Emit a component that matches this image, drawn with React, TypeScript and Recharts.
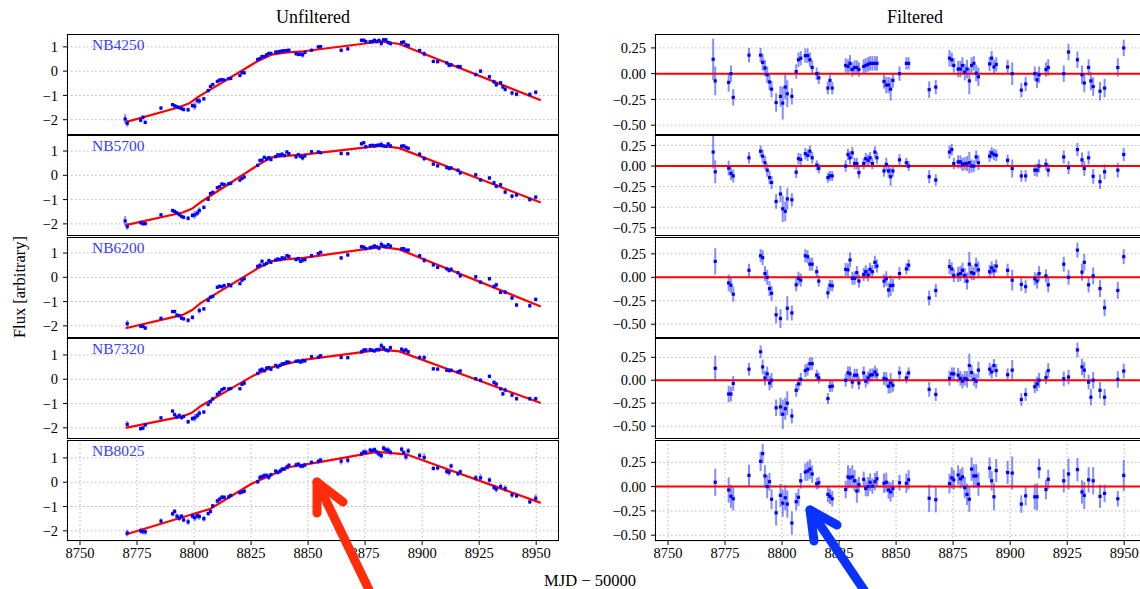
import React from "react";
import {
  ComposedChart,
  Scatter,
  Line,
  XAxis,
  YAxis,
  CartesianGrid,
  ErrorBar,
  ReferenceLine,
} from "recharts";

// observation epochs (MJD - 50000), shared by all bands
const mjd = [
  8769.8, 8770.7, 8776.6, 8777.6, 8778.6, 8785.5, 8790.6, 8791.5, 8792.5, 8793.5,
  8794.5, 8795.4, 8797.4, 8799.3, 8800.3, 8801.4, 8802.3, 8804.3, 8806.2, 8807.2,
  8808.2, 8810.2, 8811.2, 8812.2, 8813.2, 8815.2, 8816.1, 8820.1, 8821.0, 8822.0,
  8827.9, 8828.9, 8829.8, 8830.8, 8831.8, 8832.8, 8833.7, 8835.8, 8836.7, 8837.7,
  8838.6, 8839.6, 8840.7, 8841.6, 8844.7, 8845.7, 8846.7, 8847.6, 8848.6, 8851.5,
  8854.5, 8855.5, 8864.5, 8867.4, 8873.4, 8874.4, 8875.3, 8877.2, 8878.2, 8879.1,
  8880.1, 8881.1, 8882.1, 8883.1, 8884.1, 8885.1, 8886.1, 8891.0, 8891.9, 8892.9,
  8893.9, 8898.9, 8900.9, 8904.9, 8906.8, 8910.8, 8911.8, 8912.7, 8915.7, 8916.7,
  8923.5, 8925.6, 8929.5, 8931.5, 8932.5, 8934.4, 8935.4, 8936.4, 8939.4, 8941.4,
  8947.2, 8949.8,
];

// 1-sigma errors (blue bands, and the NB8025 band)
const errBlue = [
  0.2, 0.14, 0.09, 0.08, 0.08, 0.07, 0.07, 0.08, 0.08, 0.08,
  0.08, 0.08, 0.09, 0.1, 0.16, 0.12, 0.13, 0.08, 0.07, 0.07,
  0.07, 0.07, 0.07, 0.07, 0.07, 0.06, 0.06, 0.06, 0.06, 0.06,
  0.07, 0.07, 0.08, 0.07, 0.07, 0.07, 0.07, 0.07, 0.07, 0.07,
  0.07, 0.07, 0.07, 0.07, 0.07, 0.08, 0.08, 0.11, 0.07, 0.07,
  0.06, 0.06, 0.08, 0.07, 0.08, 0.07, 0.07, 0.08, 0.08, 0.08,
  0.08, 0.09, 0.13, 0.08, 0.07, 0.08, 0.09, 0.07, 0.07, 0.07,
  0.07, 0.07, 0.11, 0.07, 0.07, 0.07, 0.08, 0.08, 0.07, 0.08,
  0.08, 0.08, 0.08, 0.09, 0.09, 0.08, 0.09, 0.09, 0.09, 0.09,
  0.09, 0.08,
];
const errRed = [
  0.1, 0.14, 0.13, 0.12, 0.12, 0.11, 0.1, 0.1, 0.11, 0.12,
  0.09, 0.1, 0.13, 0.12, 0.14, 0.13, 0.14, 0.12, 0.09, 0.09,
  0.08, 0.09, 0.1, 0.1, 0.09, 0.06, 0.06, 0.08, 0.08, 0.08,
  0.09, 0.12, 0.1, 0.12, 0.11, 0.12, 0.08, 0.08, 0.08, 0.1,
  0.09, 0.08, 0.09, 0.08, 0.1, 0.1, 0.09, 0.1, 0.09, 0.08,
  0.1, 0.1, 0.14, 0.13, 0.1, 0.11, 0.1, 0.1, 0.1, 0.1,
  0.11, 0.11, 0.13, 0.12, 0.12, 0.12, 0.12, 0.11, 0.1, 0.14,
  0.12, 0.12, 0.17, 0.09, 0.1, 0.13, 0.14, 0.1, 0.1, 0.1,
  0.12, 0.16, 0.12, 0.12, 0.14, 0.13, 0.1, 0.14, 0.12, 0.09,
  0.08, 0.16,
];

// unfiltered fluxes
const flux4250 = [
  -1.97, -2.15, -2.02, -1.9, -2.11, -1.52, -1.38, -1.43, -1.47, -1.5,
  -1.54, -1.58, -1.59, -1.42, -1.44, -1.21, -1.23, -1.14, -0.8, -0.63,
  -0.55, -0.42, -0.37, -0.35, -0.37, -0.31, -0.3, -0.18, -0.06, -0.07,
  0.48, 0.52, 0.6, 0.6, 0.67, 0.73, 0.73, 0.78, 0.79, 0.81,
  0.83, 0.84, 0.85, 0.86, 0.72, 0.69, 0.7, 0.67, 0.77, 0.86,
  1.0, 1.01, 0.86, 0.92, 1.27, 1.27, 1.22, 1.21, 1.22, 1.27,
  1.22, 1.26, 1.15, 1.29, 1.29, 1.18, 1.14, 1.18, 1.2, 1.08,
  1.06, 0.85, 0.71, 0.4, 0.39, 0.34, 0.24, 0.26, 0.19, 0.18,
  -0.14, 0.0, -0.23, -0.44, -0.56, -0.48, -0.65, -0.75, -0.9, -0.95,
  -0.96, -0.87,
];
const flux5700 = [
  -1.88, -2.11, -1.95, -1.99, -1.99, -1.63, -1.45, -1.49, -1.55, -1.62,
  -1.69, -1.73, -1.77, -1.65, -1.63, -1.56, -1.45, -1.32, -0.99, -0.75,
  -0.7, -0.51, -0.47, -0.36, -0.38, -0.35, -0.33, -0.2, -0.13, -0.07,
  0.41, 0.61, 0.62, 0.74, 0.67, 0.73, 0.65, 0.77, 0.84, 0.83,
  0.87, 0.81, 0.96, 0.89, 0.76, 0.85, 0.78, 0.72, 0.8, 0.97,
  0.96, 0.93, 0.9, 0.89, 1.3, 1.34, 1.18, 1.22, 1.23, 1.21,
  1.23, 1.24, 1.26, 1.21, 1.19, 1.29, 1.21, 1.2, 1.21, 1.15,
  1.11, 0.87, 0.69, 0.46, 0.39, 0.32, 0.28, 0.3, 0.21, 0.1,
  0.02, -0.19, -0.11, -0.31, -0.45, -0.39, null, -0.69, -0.86, -0.81,
  -1.0, -0.9,
];
const flux6200 = [
  null, -1.91, -2.01, -2.02, -2.09, -1.69, -1.41, -1.41, -1.56, -1.58,
  -1.68, -1.71, -1.77, -1.65, null, null, -1.37, -1.3, -0.95, -0.82,
  -0.79, -0.41, -0.37, -0.39, -0.34, -0.3, -0.35, -0.26, -0.12, -0.06,
  0.45, 0.5, 0.66, 0.52, 0.57, 0.69, 0.62, 0.71, 0.75, 0.73,
  0.8, 0.78, 0.89, 0.86, 0.73, 0.77, 0.66, 0.71, 0.73, 0.89,
  0.98, 1.03, 0.8, 0.92, 1.26, 1.24, 1.18, 1.22, 1.24, 1.29,
  1.25, 1.2, 1.35, 1.29, 1.26, 1.34, 1.28, 1.17, 1.18, 1.11,
  1.12, 0.89, 0.7, 0.51, 0.41, 0.35, 0.28, 0.33, 0.19, 0.06,
  0.02, -0.2, -0.06, -0.38, -0.31, -0.62, null, -0.61, -0.85, -1.14,
  -1.17, -0.91,
];
const flux7320 = [
  null, -1.86, -2.03, -2.01, -1.88, -1.59, -1.31, -1.46, -1.56, -1.49,
  -1.58, -1.53, -1.75, -1.62, -1.59, -1.5, -1.4, -1.35, -1.04, -0.92,
  -0.81, -0.62, -0.54, -0.43, -0.38, -0.4, -0.38, -0.39, -0.21, -0.16,
  0.24, 0.37, 0.41, 0.35, 0.46, 0.48, 0.41, 0.57, 0.51, 0.57,
  0.63, 0.65, 0.71, 0.7, 0.74, 0.75, 0.71, 0.76, 0.76, 0.93,
  0.91, 0.97, 0.9, 0.89, 1.13, 1.2, 1.21, 1.22, 1.19, 1.17,
  1.22, 1.22, 1.38, 1.3, 1.21, 1.18, 1.3, 1.24, 1.17, 1.21,
  1.13, 0.9, 0.89, 0.43, 0.42, 0.37, 0.36, 0.37, 0.3, 0.34,
  0.02, -0.04, 0.12, -0.13, -0.2, -0.39, -0.6, -0.44, -0.65, -0.8,
  -0.8, -0.8,
];
const flux8025 = [
  null, -2.09, -2.0, -2.03, -2.04, -1.6, -1.3, -1.2, -1.4, -1.48,
  -1.4, -1.55, -1.63, -1.39, -1.46, -1.38, -1.41, -1.5, -1.29, -1.2,
  -0.97, -0.77, -0.7, -0.62, -0.62, -0.6, -0.54, -0.43, -0.4, -0.37,
  0.02, 0.19, 0.22, 0.27, 0.27, 0.21, 0.31, 0.46, 0.4, 0.46,
  0.54, 0.55, 0.63, 0.7, 0.71, 0.74, 0.67, 0.67, 0.71, 0.82,
  0.86, 0.91, 0.87, 0.91, 1.17, 1.24, 1.24, 1.32, 1.3, 1.34,
  1.24, 1.16, 1.1, 1.4, 1.33, 1.32, 1.23, 1.36, 1.22, 1.05,
  1.29, 1.1, 1.02, 0.57, 0.59, 0.45, 0.41, 0.67, 0.35, 0.43,
  0.18, 0.18, 0.09, -0.21, -0.28, -0.18, null, -0.26, -0.52, -0.56,
  -0.81, -0.66,
];

// filtered (detrended) fluxes
const filt4250 = [
  0.14, -0.07, -0.085, 0.0, -0.23, 0.18, 0.18, 0.11, 0.055, -0.01,
  -0.08, -0.15, -0.28, -0.22, -0.285, -0.13, -0.195, -0.22, 0.02, 0.135,
  0.15, 0.175, 0.175, 0.135, 0.06, 0.0, -0.04, -0.14, -0.065, -0.14,
  0.08, 0.07, 0.1, 0.04, 0.06, 0.06, 0.04, 0.07, 0.08, 0.09,
  0.1, 0.1, 0.1, 0.1, -0.075, -0.11, -0.11, -0.15, -0.065, 0.0,
  0.1, 0.1, -0.155, -0.13, 0.15, 0.135, 0.08, 0.045, 0.045, 0.08,
  0.015, 0.045, -0.07, 0.08, 0.1, 0.005, -0.03, 0.095, 0.15, 0.065,
  0.09, 0.065, 0.0, -0.16, -0.1, 0.0, -0.06, -0.01, 0.04, 0.06,
  0.0, 0.21, 0.135, -0.01, -0.09, 0.06, -0.07, -0.125, -0.17, -0.14,
  0.06, 0.25,
];
const filt5700 = [
  0.17, -0.07, -0.025, -0.09, -0.12, 0.1, 0.18, 0.12, 0.04, -0.05,
  -0.14, -0.2, -0.43, -0.34, -0.52, -0.55, -0.4, -0.41, -0.075, 0.09,
  0.08, 0.15, 0.13, 0.18, 0.1, 0.01, -0.03, -0.14, -0.12, -0.12,
  0.0, 0.14, 0.1, 0.16, 0.03, 0.03, -0.08, 0.03, 0.09, 0.07,
  0.1, 0.03, 0.17, 0.1, -0.06, 0.02, -0.06, -0.13, -0.06, 0.075,
  0.04, 0.0, -0.13, -0.17, 0.17, 0.2, 0.03, 0.05, 0.05, 0.02,
  0.03, 0.03, 0.04, 0.0, 0.0, 0.11, 0.04, 0.12, 0.16, 0.14,
  0.13, 0.07, -0.03, -0.12, -0.12, -0.05, -0.05, 0.0, 0.02, -0.05,
  0.11, -0.02, 0.2, 0.075, -0.03, 0.1, null, -0.125, -0.19, -0.07,
  -0.05, 0.14,
];
const filt6200 = [
  null, 0.17, -0.06, -0.085, -0.18, 0.075, 0.23, 0.21, 0.04, 0.0,
  -0.12, -0.17, -0.4, -0.44, null, null, -0.33, -0.38, -0.08, -0.01,
  -0.03, 0.23, 0.22, 0.14, 0.14, 0.06, -0.04, -0.165, -0.085, -0.09,
  0.085, 0.08, 0.185, -0.01, -0.01, 0.05, -0.04, 0.03, 0.06, 0.025,
  0.085, 0.06, 0.16, 0.12, -0.04, -0.015, -0.135, -0.09, -0.085, 0.04,
  0.09, 0.13, -0.22, -0.14, 0.115, 0.09, 0.02, 0.03, 0.04, 0.075,
  0.02, -0.04, 0.14, 0.05, 0.04, 0.13, 0.08, 0.06, 0.1, 0.07,
  0.12, 0.075, -0.03, -0.075, -0.1, -0.015, -0.04, 0.04, 0.015, -0.08,
  0.14, 0.0, 0.29, 0.055, 0.16, -0.08, null, 0.015, -0.12, -0.325,
  -0.14, 0.22,
];
const filt7320 = [
  null, 0.13, -0.15, -0.15, -0.035, 0.12, 0.31, 0.145, 0.025, 0.07,
  -0.03, 0.0, -0.3, -0.29, -0.37, -0.31, -0.25, -0.39, -0.11, -0.04,
  0.01, 0.105, 0.12, 0.18, 0.18, 0.055, 0.025, -0.2, -0.07, -0.065,
  0.0, 0.08, 0.07, -0.02, 0.055, 0.055, -0.03, 0.08, -0.01, 0.025,
  0.055, 0.06, 0.09, 0.06, 0.02, 0.01, -0.065, -0.03, -0.055, 0.08,
  0.025, 0.08, -0.1, -0.155, 0.02, 0.07, 0.07, 0.055, 0.02, -0.01,
  0.02, 0.01, 0.16, 0.085, 0.01, -0.01, 0.11, 0.12, 0.09, 0.16,
  0.105, 0.06, 0.11, -0.21, -0.155, -0.07, -0.04, 0.0, 0.03, 0.105,
  0.015, 0.035, 0.33, 0.145, 0.11, -0.02, -0.185, 0.0, -0.11, -0.185,
  0.01, 0.1,
];
const filt8025 = [
  null, 0.045, -0.035, -0.1, -0.125, 0.115, 0.26, 0.34, 0.11, 0.0,
  0.05, -0.13, -0.27, -0.09, -0.17, -0.115, -0.18, -0.375, -0.155, -0.11,
  0.06, 0.15, 0.16, 0.18, 0.13, 0.03, 0.04, -0.08, -0.1, -0.125,
  -0.03, 0.1, 0.09, 0.1, 0.06, -0.045, 0.02, 0.075, -0.02, 0.0,
  0.045, 0.005, 0.05, 0.08, 0.035, 0.045, -0.035, -0.055, -0.02, 0.04,
  0.035, 0.07, -0.12, -0.135, 0.03, 0.09, 0.07, 0.12, 0.08, 0.1,
  -0.01, -0.08, -0.13, 0.18, 0.11, 0.11, 0.025, 0.19, 0.06, -0.105,
  0.165, 0.145, 0.14, -0.18, -0.095, -0.105, -0.105, 0.185, -0.03, 0.075,
  0.06, 0.13, 0.175, -0.055, -0.09, 0.07, null, 0.06, -0.1, -0.07,
  -0.125, 0.115,
];

// trend model (red curve) knots
const knotDays4250 = [8770, 8793, 8798, 8802, 8828, 8834, 8840, 8848, 8882, 8890, 8952];
const knotFlux4250 = [-2.1, -1.5, -1.32, -1.05, 0.42, 0.68, 0.76, 0.82, 1.22, 1.12, -1.2];
const knotDays5700 = [8770, 8795, 8799, 8803, 8828, 8834, 8840, 8848, 8882, 8890, 8952];
const knotFlux5700 = [-2.05, -1.53, -1.38, -1.1, 0.42, 0.74, 0.8, 0.85, 1.22, 1.12, -1.12];
const knotDays6200 = [8770, 8795, 8799, 8803, 8828, 8834, 8840, 8848, 8882, 8890, 8952];
const knotFlux6200 = [-2.1, -1.55, -1.36, -1.05, 0.37, 0.67, 0.74, 0.8, 1.25, 1.15, -1.2];
const knotDays7320 = [8770, 8795, 8799, 8803, 8826, 8834, 8848, 8882, 8890, 8952];
const knotFlux7320 = [-2.0, -1.53, -1.38, -1.1, 0.15, 0.49, 0.8, 1.22, 1.15, -0.98];
const knotDays8025 = [8770, 8800, 8807, 8825, 8842, 8855, 8880, 8893, 8952];
const knotFlux8025 = [-2.15, -1.3, -1.1, -0.07, 0.63, 0.83, 1.25, 1.15, -0.85];

const bandNames = ["NB4250", "NB5700", "NB6200", "NB7320", "NB8025"];
const xTicks = [8750, 8775, 8800, 8825, 8850, 8875, 8900, 8925, 8950];
const fluxTicks = [-2, -1, 0, 1];
const filtTicks = [-0.5, -0.25, 0, 0.25];
const filtTicksWide = [-0.75, -0.5, -0.25, 0, 0.25];

const X_DOMAIN: [number, number] = [8744.3, 8960];
const LEFT_X = 67;
const RIGHT_X = 655;
const PLOT_W = 492;
const ROW_TOP = [34, 135, 237, 338, 440];
const ROW_H = 101;
const AXIS_W = 60;
const SERIF = "'Liberation Serif', 'DejaVu Serif', serif";

const bands = [
  { flux: flux4250, filt: filt4250, err: errBlue, kd: knotDays4250, kf: knotFlux4250,
    fluxDom: [-2.63, 1.53], filtDom: [-0.595, 0.385], filtTicks },
  { flux: flux5700, filt: filt5700, err: errBlue, kd: knotDays5700, kf: knotFlux5700,
    fluxDom: [-2.5, 1.66], filtDom: [-0.85, 0.377], filtTicks: filtTicksWide },
  { flux: flux6200, filt: filt6200, err: errBlue, kd: knotDays6200, kf: knotFlux6200,
    fluxDom: [-2.5, 1.66], filtDom: [-0.647, 0.43], filtTicks },
  { flux: flux7320, filt: filt7320, err: errBlue, kd: knotDays7320, kf: knotFlux7320,
    fluxDom: [-2.46, 1.7], filtDom: [-0.64, 0.46], filtTicks },
  { flux: flux8025, filt: filt8025, err: errRed, kd: knotDays8025, kf: knotFlux8025,
    fluxDom: [-2.42, 1.74], filtDom: [-0.56, 0.48], filtTicks },
];

const minus = (s: string) => s.replace("-", "\u2212");
const fmtFlux = (v: number) => minus(String(v));
const fmtFilt = (v: number) => minus(v.toFixed(2));

const Dot = (p: any) => (
  <rect x={p.cx - 1.6} y={p.cy - 1.6} width={3.2} height={3.2} fill="#0000ff" />
);

function Panel(props: any) {
  const { x, top, vals, errs, knotDays, knotVals, domain, ticks, fmt, showX, label, filtered } = props;
  const pts = mjd
    .map((t, i) => ({ t, v: vals[i], e: errs[i] }))
    .filter((p) => p.v !== null);
  const trend = knotDays ? knotDays.map((t: number, i: number) => ({ t, v: knotVals[i] })) : [];
  const tickStyle = { fill: "#000", fontSize: 14.5, fontFamily: SERIF };
  return (
    <div style={{ position: "absolute", left: x - AXIS_W, top }}>
      <ComposedChart
        width={AXIS_W + PLOT_W}
        height={ROW_H + (showX ? 30 : 0)}
        margin={{ top: 0, right: 0, bottom: 0, left: 0 }}
      >
        <CartesianGrid stroke="#b8b8b8" strokeDasharray="1.5 2.5" />
        <XAxis
          dataKey="t"
          type="number"
          domain={X_DOMAIN}
          ticks={xTicks}
          interval={0}
          allowDataOverflow
          axisLine={false}
          tickLine={{ stroke: "#000" }}
          tickSize={4}
          tickMargin={3}
          tick={showX ? tickStyle : false}
          height={showX ? 30 : 0}
        />
        <YAxis
          dataKey="v"
          type="number"
          domain={domain}
          ticks={ticks}
          interval={0}
          allowDataOverflow
          width={AXIS_W}
          axisLine={false}
          tickLine={{ stroke: "#000" }}
          tickSize={4}
          tickMargin={5}
          tickFormatter={fmt}
          tick={tickStyle}
        />
        <Scatter data={pts} dataKey="v" isAnimationActive={false} shape={Dot}>
          <ErrorBar
            dataKey="e"
            direction="y"
            width={0}
            stroke="#1f2fff"
            strokeWidth={2}
            strokeOpacity={0.55}
          />
        </Scatter>
        {filtered ? (
          <ReferenceLine y={0} stroke="#ff0000" strokeWidth={2} />
        ) : (
          <Line
            data={trend}
            dataKey="v"
            type="linear"
            stroke="#ff0000"
            strokeWidth={2.2}
            dot={false}
            isAnimationActive={false}
          />
        )}
      </ComposedChart>
      <div
        style={{
          position: "absolute",
          left: AXIS_W,
          top: 0,
          width: PLOT_W,
          height: ROW_H,
          border: "1px solid #000",
          boxSizing: "border-box",
          pointerEvents: "none",
        }}
      />
      {label && (
        <div
          style={{
            position: "absolute",
            left: AXIS_W + 25,
            top: 2,
            color: "#3c3cff",
            fontFamily: SERIF,
            fontSize: 15.5,
          }}
        >
          {label}
        </div>
      )}
    </div>
  );
}

const App: React.FC = () => (
  <div
    style={{
      position: "absolute",
      left: 0,
      top: 0,
      width: 1140,
      height: 589,
      overflow: "hidden",
      background: "#fff",
      fontFamily: SERIF,
    }}
  >
    <div style={{ position: "absolute", left: LEFT_X, width: PLOT_W, top: 7, textAlign: "center", fontSize: 18 }}>
      Unfiltered
    </div>
    <div style={{ position: "absolute", left: 815, width: 200, top: 7, textAlign: "center", fontSize: 18 }}>
      Filtered
    </div>
    <div
      style={{
        position: "absolute",
        left: 20,
        top: 287,
        transform: "translate(-50%, -50%) rotate(-90deg)",
        whiteSpace: "nowrap",
        fontSize: 16.5,
      }}
    >
      Flux [arbitrary]
    </div>
    <div style={{ position: "absolute", left: 490, width: 200, top: 571, textAlign: "center", fontSize: 16.5 }}>
      MJD − 50000
    </div>

    {bands.map((b, r) => (
      <React.Fragment key={bandNames[r]}>
        <Panel
          x={LEFT_X}
          top={ROW_TOP[r]}
          vals={b.flux}
          errs={b.err}
          knotDays={b.kd}
          knotVals={b.kf}
          domain={b.fluxDom}
          ticks={fluxTicks}
          fmt={fmtFlux}
          showX={r === 4}
          label={bandNames[r]}
          filtered={false}
        />
        <Panel
          x={RIGHT_X}
          top={ROW_TOP[r]}
          vals={b.filt}
          errs={b.err}
          domain={b.filtDom}
          ticks={b.filtTicks}
          fmt={fmtFilt}
          showX={r === 4}
          filtered
        />
      </React.Fragment>
    ))}

    <svg
      width={1140}
      height={589}
      style={{ position: "absolute", left: 0, top: 0, pointerEvents: "none" }}
    >
      <g stroke="#ff2d0a" strokeWidth={9} strokeLinecap="round" strokeLinejoin="round" fill="none">
        <polyline points="372,596 317,482" />
        <polyline points="317,513 317,482 343,502" />
      </g>
      <g stroke="#0a32ff" strokeWidth={9} strokeLinecap="round" strokeLinejoin="round" fill="none">
        <polyline points="868,596 810,510" />
        <polyline points="814,541 810,510 837,525" />
      </g>
    </svg>
  </div>
);

export default App;
